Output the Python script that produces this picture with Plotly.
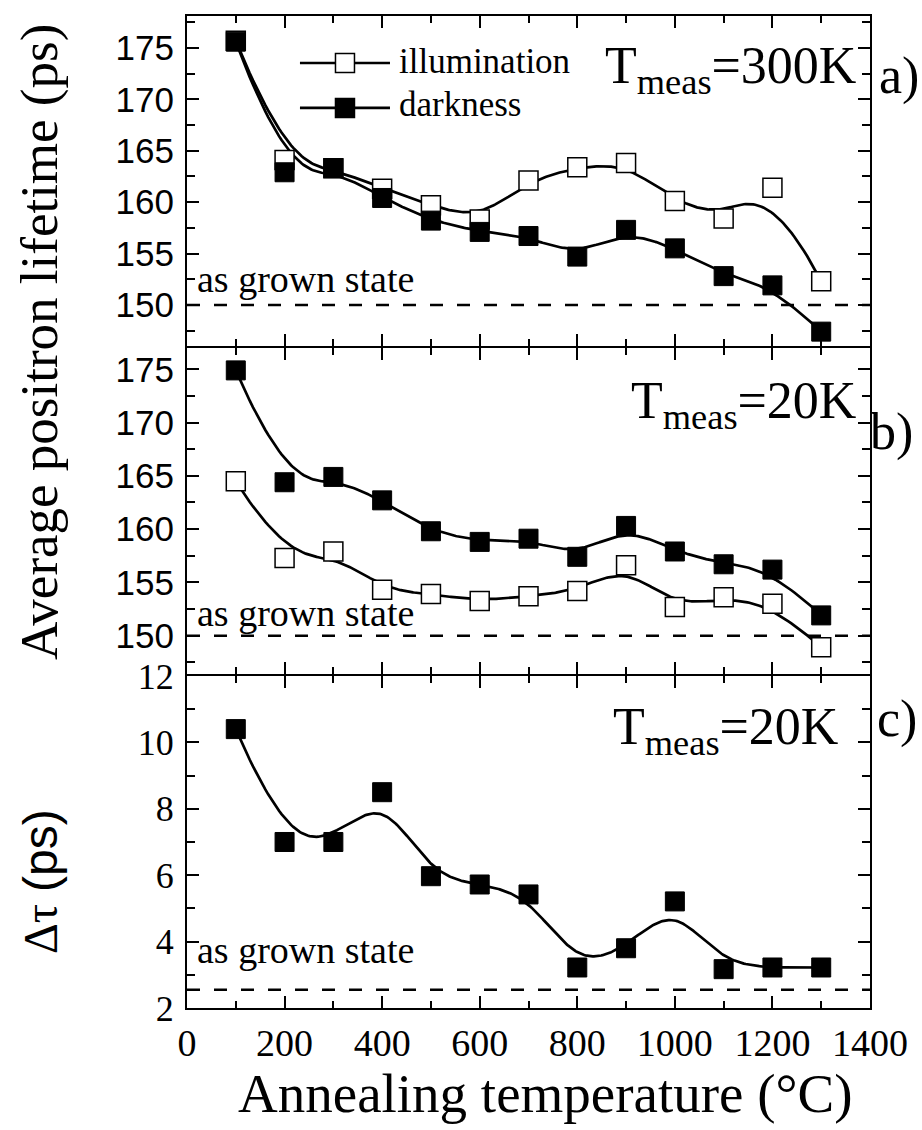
import numpy as np
import plotly.graph_objects as go

# ---------------- data ----------------
temps = [100, 200, 300, 400, 500, 600, 700, 800, 900, 1000, 1100, 1200, 1300]
a_illum = [175.7, 164.1, 163.3, 161.3, 159.7, 158.3, 162.1, 163.4, 163.8, 160.1, 158.4, 161.4, 152.3]
a_dark = [175.6, 162.9, 163.3, 160.4, 158.2, 157.1, 156.7, 154.7, 157.3, 155.5, 152.8, 151.9, 147.4]
b_illum = [164.5, 157.3, 157.9, 154.3, 153.9, 153.25, 153.7, 154.2, 156.6, 152.7, 153.6, 153.0, 148.9]
b_dark = [174.9, 164.4, 164.9, 162.7, 159.8, 158.8, 159.1, 157.4, 160.3, 157.9, 156.7, 156.2, 151.9]
c_delta = [10.4, 7.0, 7.0, 8.5, 5.97, 5.72, 5.42, 3.22, 3.8, 5.21, 3.17, 3.22, 3.22]
as_grown_a = 150.0
as_grown_b = 150.0
as_grown_c = 2.55
x_ticks = [0, 200, 400, 600, 800, 1000, 1200, 1400]

SERIF = "Liberation Serif"
SANS = "Liberation Sans"


def bspline(xs, ys, n=400):
    """Clamped cubic B-spline using the data points as control points."""
    P = np.column_stack([np.asarray(xs, float), np.asarray(ys, float)])
    k = 3
    m = len(P)
    knots = np.concatenate([[0.0] * k, np.arange(m - k + 1, dtype=float), [float(m - k)] * k])
    out = []
    for t in np.linspace(0, m - k, n):
        s = int(np.searchsorted(knots, t, side="right") - 1)
        s = min(max(s, k), m - 1)
        d = [P[j + s - k].copy() for j in range(k + 1)]
        for r in range(1, k + 1):
            for j in range(k, r - 1, -1):
                den = knots[j + 1 + s - r] - knots[j + s - k]
                alpha = 0.0 if den == 0 else (t - knots[j + s - k]) / den
                d[j] = (1 - alpha) * d[j - 1] + alpha * d[j]
        out.append(d[k])
    out = np.array(out)
    return out[:, 0], out[:, 1]


fig = go.Figure()

line_style = dict(color="black", width=2.7)
open_marker = dict(symbol="square", size=19, color="white", line=dict(color="black", width=1.5))
dark_marker = dict(symbol="square", size=19, color="black", line=dict(color="black", width=1))

panels = [
    ("x", "y", a_illum, a_dark),
    ("x2", "y2", b_illum, b_dark),
]
for xa, ya, ill, drk in panels:
    for ser in (ill, drk):
        sx, sy = bspline(temps, ser)
        fig.add_trace(go.Scatter(x=sx, y=sy, mode="lines", line=line_style,
                                 xaxis=xa, yaxis=ya, showlegend=False, hoverinfo="skip"))
    fig.add_trace(go.Scatter(x=temps, y=ill, mode="markers", marker=open_marker,
                             xaxis=xa, yaxis=ya, showlegend=False, name="illumination"))
    fig.add_trace(go.Scatter(x=temps, y=drk, mode="markers", marker=dark_marker,
                             xaxis=xa, yaxis=ya, showlegend=False, name="darkness"))

sx, sy = bspline(temps, c_delta)
fig.add_trace(go.Scatter(x=sx, y=sy, mode="lines", line=line_style,
                         xaxis="x3", yaxis="y3", showlegend=False, hoverinfo="skip"))
fig.add_trace(go.Scatter(x=temps, y=c_delta, mode="markers", marker=dark_marker,
                         xaxis="x3", yaxis="y3", showlegend=False, name="Δτ"))

# ---------------- axes ----------------
def xaxis(anchor, labels):
    d = dict(
        anchor=anchor, domain=[0, 1], range=[0, 1400],
        tickvals=x_ticks, ticktext=[str(v) for v in x_ticks],
        showticklabels=labels, ticks="inside", ticklen=12, tickwidth=2, tickcolor="black",
        minor=dict(dtick=100, tick0=0, ticks="inside", ticklen=7, tickwidth=2, tickcolor="black"),
        showline=True, linewidth=2, linecolor="black", mirror="ticks",
        showgrid=False, zeroline=False, automargin=False,
        tickfont=dict(family=SERIF, size=38, color="black"),
    )
    if anchor != "y3":
        d["matches"] = "x3"
    return d


def yaxis(anchor, domain, rng, dtick, minor, font, tick0):
    return dict(
        anchor=anchor, domain=domain, range=rng, dtick=dtick, tick0=tick0,
        ticks="inside", ticklen=12, tickwidth=2, tickcolor="black",
        minor=dict(dtick=minor, tick0=tick0, ticks="inside", ticklen=8, tickwidth=2, tickcolor="black"),
        showline=True, linewidth=2, linecolor="black", mirror="ticks",
        showgrid=False, zeroline=False, ticklabelstandoff=4, automargin=False,
        tickfont=font,
    )


sans_font = dict(family=SANS, size=35, color="black")
serif_font = dict(family=SERIF, size=36, color="black")

fig.update_layout(
    xaxis=xaxis("y", False),
    xaxis2=xaxis("y2", False),
    xaxis3=xaxis("y3", True),
    yaxis=yaxis("x", [0.6673, 1.0], [146.0, 178.1], 5, 2.5, sans_font, 150),
    yaxis2=yaxis("x2", [0.3367, 0.6653], [146.4, 177.0], 5, 2.5, sans_font, 150),
    yaxis3=yaxis("x3", [0.0, 0.3347], [2, 12], 2, 1, serif_font, 2),
)

# ---------------- reference lines ----------------
for xa, ya, val in (("x", "y", as_grown_a), ("x2", "y2", as_grown_b), ("x3", "y3", as_grown_c)):
    fig.add_shape(type="line", xref=f"{xa} domain", yref=ya, x0=0.0, x1=1.0, y0=val, y1=val,
                  line=dict(color="black", width=2.5, dash="13px,14px"))

# ---------------- annotations ----------------
ann = []
big = dict(family=SERIF, size=52, color="black")
mid = dict(family=SERIF, size=38, color="black")

for xa, ya, yv in (("x", "y", 152.5), ("x2", "y2", 152.15), ("x3", "y3", 3.75)):
    ann.append(dict(text="as grown state", xref=xa, yref=ya, x=16, y=yv,
                    xanchor="left", yanchor="middle", showarrow=False, font=mid))

ann.append(dict(text="T<sub>meas</sub>=300K", xref="x", yref="y", x=1377, y=176.3,
                xanchor="right", yanchor="top", showarrow=False, font=big))
ann.append(dict(text="T<sub>meas</sub>=20K", xref="x2", yref="y2", x=1377, y=174.9,
                xanchor="right", yanchor="top", showarrow=False, font=big))
ann.append(dict(text="T<sub>meas</sub>=20K", xref="x3", yref="y3", x=1340, y=11.4,
                xanchor="right", yanchor="top", showarrow=False, font=big))

ann.append(dict(text="a)", xref="x domain", yref="y", x=1.010, y=172.3,
                xanchor="left", yanchor="middle", showarrow=False, font=big))
ann.append(dict(text="b)", xref="x2 domain", yref="y2", x=0.997, y=169.1,
                xanchor="left", yanchor="middle", showarrow=False, font=big))
ann.append(dict(text="c)", xref="x3 domain", yref="y3", x=1.007, y=10.7,
                xanchor="left", yanchor="middle", showarrow=False, font=big))

# legend (manual, panel a)
leg_font = dict(family=SERIF, size=35, color="black")
ann.append(dict(text="illumination", xref="paper", yref="paper", x=0.3075, y=0.9546,
                xanchor="left", yanchor="middle", showarrow=False, font=leg_font))
ann.append(dict(text="darkness", xref="paper", yref="paper", x=0.3075, y=0.9103,
                xanchor="left", yanchor="middle", showarrow=False, font=leg_font))
for yp, fill in ((0.9526, "white"), (0.9073, "black")):
    fig.add_shape(type="line", xref="paper", yref="paper", x0=0.1654, x1=0.2972, y0=yp, y1=yp,
                  line=dict(color="black", width=2.7))
    fig.add_shape(type="rect", xref="paper", yref="paper",
                  xsizemode="pixel", xanchor=0.2313, x0=-9.5, x1=9.5,
                  ysizemode="pixel", yanchor=yp, y0=-9.5, y1=9.5,
                  fillcolor=fill, line=dict(color="black", width=1.5))

# axis titles
ann.append(dict(text="Average positron lifetime (ps)", xref="paper", yref="paper",
                x=-0.2152, y=0.6714, xanchor="center", yanchor="middle", textangle=-90,
                showarrow=False, font=dict(family=SERIF, size=53, color="black")))
ann.append(dict(text="Δτ <span style='font-family:Liberation Sans'>(ps)</span>", xref="paper", yref="paper",
                x=-0.2152, y=0.127, xanchor="center", yanchor="middle", textangle=-90,
                showarrow=False, font=dict(family=SERIF, size=48, color="black")))
ann.append(dict(text="Annealing temperature (°C)", xref="paper", yref="paper",
                x=0.5256, y=-0.0857, xanchor="center", yanchor="middle",
                showarrow=False, font=dict(family=SERIF, size=55, color="black")))

fig.update_layout(
    annotations=ann,
    width=922, height=1130,
    margin=dict(l=187, r=52, t=16, b=122, pad=0, autoexpand=False),
    paper_bgcolor="white", plot_bgcolor="white",
    showlegend=False,
)

fig.write_html("out.html")
